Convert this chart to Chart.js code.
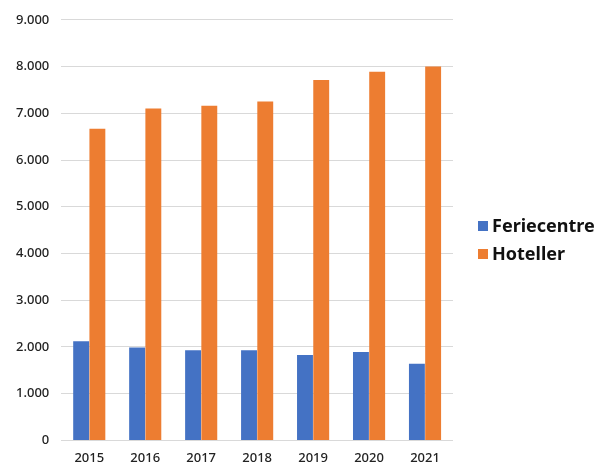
<!DOCTYPE html>
<html>
<head>
<meta charset="utf-8">
<script src="https://cdn.jsdelivr.net/npm/chart.js@4"></script>
<style>
  html, body { margin: 0; padding: 0; background: #fff; overflow: hidden; }
  #wrap { width: 595px; height: 468px; position: relative; }
  #legend { position: absolute; left: 478px; top: 214px; font-family: 'Noto Sans', sans-serif;
            font-size: 18px; font-weight: bold; color: #111; }
  #legend div { height: 28px; line-height: 22px; white-space: nowrap; }
  #legend span { display: inline-block; width: 10px; height: 10px; margin-right: 4px; vertical-align: 1px; }
</style>
</head>
<body>
<div id="wrap"><canvas id="chart"></canvas><div id="legend"></div></div>
<script>
// ====== DATA ======
const years = ['2015', '2016', '2017', '2018', '2019', '2020', '2021'];
const feriecentre = [2120, 1990, 1930, 1930, 1830, 1890, 1640];
const hoteller = [6670, 7100, 7160, 7250, 7710, 7890, 8000];

function fmt(v) {
    return String(v).replace(/\B(?=(\d{3})+(?!\d))/g, '.');
}

const ctx = document.getElementById('chart').getContext('2d');
const chart = new Chart(ctx, {
    type: 'bar',
    data: {
        labels: years,
        datasets: [
            { label: 'Feriecentre', data: feriecentre, backgroundColor: '#4472C4' },
            { label: 'Hoteller', data: hoteller, backgroundColor: '#ED7D31' }
        ]
    },
    options: {
        responsive: true,
        maintainAspectRatio: false,
        animation: false,
        datasets: { bar: { categoryPercentage: 0.58, barPercentage: 0.98 } },
        layout: { padding: { top: 10, left: 4, right: 142, bottom: 0 } },
        plugins: {
            tooltip: { enabled: false },
            legend: { display: false }
        },
        scales: {
            x: {
                grid: { display: false },
                border: { display: false },
                ticks: { color: '#222', font: { family: 'Noto Sans', size: 13, weight: '500' }, padding: 2 }
            },
            y: {
                min: 0,
                max: 9000,
                ticks: {
                    stepSize: 1000,
                    callback: v => fmt(v),
                    color: '#222',
                    padding: 12,
                    font: { family: 'Noto Sans', size: 13, weight: '500' }
                },
                grid: { color: '#d9d9d9', drawTicks: false },
                border: { display: false }
            }
        }
    }
});

// legenda em HTML, montada a partir dos datasets
const legendEl = document.getElementById('legend');
chart.data.datasets.forEach(ds => {
    const row = document.createElement('div');
    row.innerHTML = '<span style="background:' + ds.backgroundColor + '"></span>' + ds.label;
    legendEl.appendChild(row);
});
</script>
</body>
</html>
